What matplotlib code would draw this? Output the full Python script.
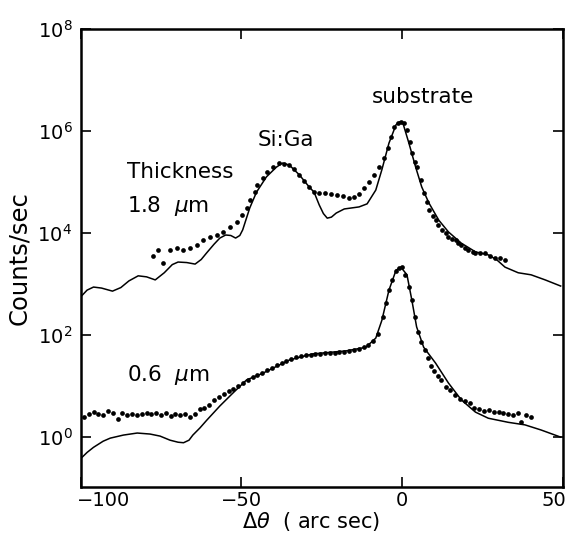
import numpy as np
import matplotlib
matplotlib.use("Agg")
import matplotlib.pyplot as plt
from matplotlib.transforms import ScaledTranslation

# ── style ─────────────────────────────────────────────────
plt.rcParams.update({
    "font.family": "DejaVu Sans",
    "mathtext.fontset": "dejavusans",
    "axes.linewidth": 1.8,
    "xtick.direction": "in",
    "ytick.direction": "in",
    "xtick.major.size": 7,
    "ytick.major.size": 7,
    "xtick.major.width": 1.2,
    "ytick.major.width": 1.2,
})

# =============================================================
# Data (x in arc sec, y as log10 of counts/sec)
# =============================================================
# 1.8 um film - calculated curve
thick_fit_x = [-99.8, -98.0, -96.0, -93.5, -90.1, -87.5, -85.0, -82.1, -79.5,
               -76.8, -74.0, -71.5, -69.7, -67.0, -64.4, -62.5, -60.8, -58.5,
               -56.7, -54.9, -53.3, -51.8, -50.5, -49.6, -47.4, -45.3, -42.2,
               -39.1, -37.2, -35.1, -32.0, -28.9, -27.4, -25.8, -24.5, -23.3,
               -22.0, -20.5, -18.0, -13.4, -10.9, -8.2, -6.3, -4.1, -1.9, -0.7,
               0.2, 2.1, 4.2, 6.1, 8.3, 11.4, 14.4, 18.4, 22.8, 26.8, 29.5,
               32.0, 36.1, 40.1, 44.5, 49.3]
thick_fit_log = [2.76, 2.88, 2.94, 2.92, 2.86, 2.93, 3.06, 3.16, 3.14,
                 3.08, 3.22, 3.38, 3.43, 3.42, 3.39, 3.48, 3.61, 3.78,
                 3.90, 3.96, 3.95, 3.90, 3.95, 4.06, 4.49, 4.80, 5.10,
                 5.29, 5.37, 5.33, 5.14, 4.90, 4.80, 4.55, 4.38, 4.29,
                 4.31, 4.39, 4.47, 4.51, 4.57, 4.84, 5.24, 5.76, 6.12, 6.18,
                 6.16, 5.76, 5.29, 4.90, 4.59, 4.25, 4.02, 3.80, 3.63, 3.57, 3.47,
                 3.33, 3.22, 3.18, 3.08, 2.96]

# 1.8 um film - measured points
thick_meas_x = [-77.4, -75.9, -74.4, -72.2, -70.0, -68.2, -66.0, -63.9, -62.0,
                -59.8, -57.6, -55.8, -53.6, -51.5, -49.9, -48.4, -47.4, -45.9,
                -45.0, -43.4, -41.9, -40.3, -38.2, -36.6, -35.1, -33.5, -32.0,
                -30.4, -28.9, -27.4, -25.8, -23.9, -22.1, -20.2, -18.3, -16.5,
                -14.9, -13.4, -11.9, -10.3, -8.8, -7.2, -5.7, -4.4, -3.5, -2.6,
                -1.3, -0.4, 0.5, 1.5, 2.4, 3.0, 3.9, 4.5, 5.8, 6.7, 7.6, 8.3,
                9.5, 10.4, 11.3, 12.3, 13.5, 14.4, 15.4, 16.6, 17.5, 18.4, 19.7,
                20.6, 21.9, 22.8, 24.3, 25.9, 27.4, 29.0, 30.5, 32.1]
thick_meas_log = [3.55, 3.67, 3.41, 3.67, 3.71, 3.67, 3.71, 3.76, 3.86,
                  3.92, 3.96, 4.02, 4.12, 4.22, 4.35, 4.49, 4.65, 4.80,
                  4.94, 5.08, 5.20, 5.29, 5.37, 5.35, 5.33, 5.25, 5.14,
                  5.02, 4.90, 4.80, 4.78, 4.78, 4.76, 4.75, 4.73, 4.69,
                  4.71, 4.76, 4.88, 5.00, 5.14, 5.29, 5.47, 5.67, 5.88, 6.08,
                  6.16, 6.18, 6.16, 6.02, 5.78, 5.57, 5.39, 5.29, 5.04, 4.78, 4.61, 4.45,
                  4.33, 4.25, 4.16, 4.06, 4.00, 3.92, 3.88, 3.86, 3.80, 3.76, 3.71,
                  3.67, 3.63, 3.61, 3.61, 3.61, 3.55, 3.51, 3.51, 3.47]

# 0.6 um film - calculated curve
thin_fit_x = [-99.8, -98.0, -96.0, -93.0, -90.8, -86.7, -82.4, -78.4, -75.3,
              -72.2, -69.7, -68.0, -66.3, -65.1, -62.9, -60.8, -56.7, -52.7,
              -48.4, -43.4, -35.1, -27.9, -17.4, -11.3, -8.2, -6.3, -4.1, -1.9,
              -0.4, 1.5, 3.0, 4.5, 6.7, 10.4, 14.4, 18.4, 22.8, 26.8, 33.0,
              38.2, 43.2, 49.3]
thin_fit_log = [-0.41, -0.30, -0.20, -0.08, -0.02, 0.04, 0.08, 0.06, 0.02,
                -0.06, -0.10, -0.11, -0.06, 0.04, 0.18, 0.33, 0.61, 0.86,
                1.12, 1.25, 1.51, 1.63, 1.69, 1.76, 1.94, 2.29, 2.88, 3.27,
                3.33, 3.18, 2.69, 2.16, 1.76, 1.45, 1.06, 0.73, 0.49, 0.37, 0.29,
                0.24, 0.14, 0.00]

# 0.6 um film - measured points
thin_meas_x = [-99.0, -97.5, -96.0, -94.5, -93.0, -91.5, -90.0, -88.5, -87.0,
               -85.5, -84.0, -82.5, -81.0, -79.5, -78.0, -76.5, -75.0, -73.5,
               -72.0, -70.5, -69.0, -67.5, -66.0, -64.5, -63.0, -61.5, -60.0,
               -58.5, -57.0, -55.5, -54.0, -52.5, -51.0, -49.5, -48.0, -46.5,
               -45.0, -43.5, -42.0, -40.5, -39.0, -37.5, -36.0, -34.5, -33.0,
               -31.5, -30.0, -28.5, -27.0, -25.5, -24.0, -22.5, -21.0, -19.5,
               -18.0, -16.5, -15.0, -13.5, -12.0, -10.5, -9.0, -7.5, -6.0, -5.0,
               -4.0, -3.0, -2.0, -1.0, 0.0, 1.0, 2.0, 3.0, 4.0, 5.0, 6.0, 7.0,
               8.0, 9.0, 10.0, 11.0, 12.0, 13.5, 15.0, 16.5, 18.0, 19.5, 21.0,
               22.5, 24.0, 25.5, 27.0, 28.5, 30.0, 31.5, 33.0, 34.5, 36.0, 37.0,
               38.5, 40.0]
thin_meas_log = [0.40, 0.45, 0.50, 0.46, 0.44, 0.52, 0.48, 0.36, 0.47,
                 0.44, 0.46, 0.43, 0.45, 0.47, 0.45, 0.48, 0.44, 0.47,
                 0.42, 0.46, 0.43, 0.46, 0.40, 0.45, 0.55, 0.57, 0.62,
                 0.72, 0.78, 0.84, 0.90, 0.95, 1.01, 1.07, 1.12, 1.17,
                 1.21, 1.25, 1.31, 1.36, 1.41, 1.45, 1.50, 1.53, 1.56,
                 1.58, 1.60, 1.61, 1.62, 1.63, 1.64, 1.65, 1.65, 1.66,
                 1.67, 1.68, 1.70, 1.73, 1.77, 1.81, 1.88, 2.02, 2.35, 2.63,
                 2.88, 3.08, 3.25, 3.32, 3.33, 3.18, 2.95, 2.69, 2.35, 2.06, 1.86, 1.70,
                 1.55, 1.40, 1.29, 1.19, 1.11, 0.99, 0.92, 0.83, 0.75, 0.70, 0.66,
                 0.58, 0.56, 0.51, 0.53, 0.50, 0.49, 0.47, 0.45, 0.43, 0.47, 0.29,
                 0.43, 0.40]

x_ticks = [-100, -50, 0, 50]
x_tick_labels = ["\u2212100", "\u221250", "0", "50"]
y_ticks = [1e0, 1e2, 1e4, 1e6, 1e8]

# =============================================================
# Figure
# =============================================================
fig = plt.figure(figsize=(5.68, 5.33), dpi=100)
ax = fig.add_axes([0.142, 0.087, 0.849, 0.859])

ax.plot(thick_fit_x, 10 ** np.array(thick_fit_log), color="black", lw=1.1)
ax.plot(thick_meas_x, 10 ** np.array(thick_meas_log), "o", color="black",
        ms=3.4, mew=0)
ax.plot(thin_fit_x, 10 ** np.array(thin_fit_log), color="black", lw=1.1)
ax.plot(thin_meas_x, 10 ** np.array(thin_meas_log), "o", color="black",
        ms=3.4, mew=0)

ax.set_yscale("log")
ax.set_xlim(-100, 49.3)
ax.set_ylim(10 ** -0.97, 1e8)
ax.set_yticks(y_ticks)
ax.yaxis.set_minor_locator(matplotlib.ticker.NullLocator())
ax.set_xticks(x_ticks)
ax.set_xticklabels(x_tick_labels)
ax.tick_params(axis="both", which="both", top=True, right=True, labelsize=14)
ax.tick_params(axis="x", pad=3)
ax.tick_params(axis="y", pad=6)

# end labels sit inward of their ticks
labels = ax.get_xticklabels()
labels[0].set_transform(labels[0].get_transform()
                        + ScaledTranslation(0.23, 0, fig.dpi_scale_trans))
labels[-1].set_transform(labels[-1].get_transform()
                         + ScaledTranslation(-0.09, 0, fig.dpi_scale_trans))

ax.set_xlabel(r"$\Delta\theta$  ( arc sec)", fontsize=15)
ax.xaxis.set_label_coords(0.478, -0.05)
ax.set_ylabel("Counts/sec", fontsize=17.5)
ax.yaxis.set_label_coords(-0.103, 0.5)

# annotations
ax.text(-9.4, 10 ** 6.54, "substrate", fontsize=15.5, ha="left", va="baseline")
ax.text(-45.0, 10 ** 5.71, "Si:Ga", fontsize=15.5, ha="left", va="baseline")
ax.text(-85.5, 10 ** 5.07, "Thickness", fontsize=15.5, ha="left", va="baseline")
ax.text(-85.5, 10 ** 4.41, r"1.8  $\mu$m", fontsize=15.5, ha="left", va="baseline")
ax.text(-85.5, 10 ** 1.10, r"0.6  $\mu$m", fontsize=15.5, ha="left", va="baseline")

fig.savefig("out.png", dpi=100)
